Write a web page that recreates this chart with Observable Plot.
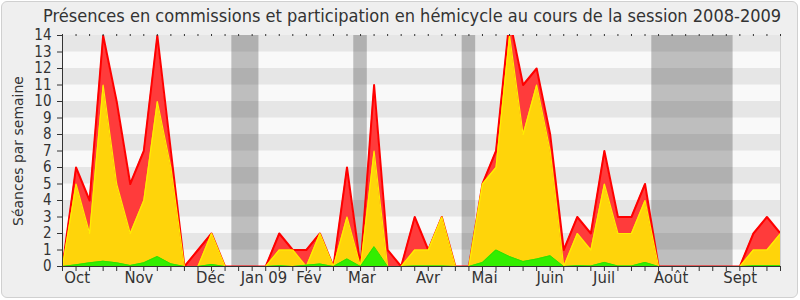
<!DOCTYPE html>
<html><head><meta charset="utf-8">
<script src="https://cdn.jsdelivr.net/npm/d3@7"></script>
<script src="https://cdn.jsdelivr.net/npm/@observablehq/plot@0.6"></script>
<style>
body{margin:0;background:#ffffff;}
#frame{position:absolute;left:1px;top:1px;width:797px;height:297px;box-sizing:border-box;border:1px solid #d0d0d0;border-radius:6px;background:#efefef;}
#title{position:absolute;left:43px;top:5px;white-space:nowrap;font-family:"DejaVu Sans Condensed","DejaVu Sans",sans-serif;font-size:18px;color:#333;}
#chart{position:absolute;left:0;top:30px;}
</style></head><body>
<div id="frame"></div>
<div id="title">Présences en commissions et participation en hémicycle au cours de la session 2008-2009</div>
<div id="chart"></div>
<script>
// Weekly values (session 2008-2009), one entry per week
const red    = [0,6,4,14,10,5,7,14,7,0, 1,2,0,0,0,0,2,1,1,2, 0,6,0,11,1,0,3,1,3,0, 0,5,7,15,11,12,8,1,3,2, 7,3,3,5,0,0,0,0,0,0, 0,2,3,2];
const yellow = [0,5,2,11,5,2,4,10,6,0, 0,2,0,0,0,0,1,1,0,2, 0,3,0,7,0,0,1,1,3,0, 0,5,6,14,8,11,7,0,2,1, 5,2,2,4,0,0,0,0,0,0, 0,1,1,2];
const green  = [0,0.1,0.22,0.32,0.22,0.06,0.22,0.6,0.16,0, 0,0.12,0,0,0,0,0.05,0,0.08,0.15, 0,0.46,0,1.2,0,0,0.03,0.03,0.03,0, 0,0.24,1.0,0.6,0.3,0.45,0.65,0,0.05,0.03, 0.25,0.03,0.03,0.25,0,0,0,0,0,0, 0,0.05,0.05,0.05];
const weeks = red.map((_, i) => i);

// Vacation (no-session) weeks
const vacStart = [13, 22, 30, 44];
const vacEnd   = [14, 22, 30, 49];

// Month labels and their positions (in weeks)
const monthName = ["Oct","Nov","Déc","Jan 09","Fév","Mar","Avr","Mai","Juin","Juil","Août","Sept"];
const monthPos  = [1.08,5.64,10.92,14.87,18.19,22.1,26.98,31.15,35.99,39.98,44.93,50.02];

const yTicks = [0,1,2,3,4,5,6,7,8,9,10,11,12,13,14];
const greyStripes = [1,3,5,7,9,11,13];
const yLabel = "Séances par semaine";

const FONT = '"DejaVu Sans Condensed","DejaVu Sans",sans-serif';
const FONT_WIDE = '"DejaVu Sans",sans-serif';

function fitSize(text, px, family) {
  const ctx = document.createElement("canvas").getContext("2d");
  ctx.font = "100px " + family;
  return px / ctx.measureText(text).width * 100;
}

// fit title width to reference
const t = document.getElementById("title");
t.style.fontSize = fitSize(t.textContent, 739, FONT).toFixed(2) + "px";
const yLabelSize = fitSize(yLabel, 150, FONT_WIDE);

const chart = Plot.plot({
  width: 800, height: 264,
  marginLeft: 62, marginRight: 20, marginTop: 5, marginBottom: 28,
  x: {domain: [0, 53], axis: null},
  y: {domain: [0, 14], axis: null},
  style: {fontFamily: FONT, fontSize: "14px", color: "#333", background: "transparent", overflow: "visible"},
  marks: [
    Plot.frame({fill: "#f9f9f9", stroke: null}),
    Plot.rect(greyStripes, {x1: 0, x2: 53, y1: d => d, y2: d => d + 1, fill: "#e6e6e6"}),
    Plot.rect(vacStart, {x1: (d, i) => vacStart[i] - 0.5, x2: (d, i) => vacEnd[i] + 0.5, y1: 0, y2: 14, fill: "#000", fillOpacity: 0.235}),
    Plot.areaY(weeks, {x: d => d, y: d => red[d], fill: "#ff3b3b", clip: true}),
    Plot.lineY(weeks, {x: d => d, y: d => red[d], stroke: "#ff0000", strokeWidth: 2, clip: true}),
    Plot.areaY(weeks, {x: d => d, y: d => yellow[d], fill: "#ffd40a", clip: true}),
    Plot.lineY(weeks, {x: d => d, y: d => yellow[d], stroke: "#ffee00", strokeWidth: 1.2, clip: true}),
    Plot.areaY(weeks, {x: d => d, y: d => green[d], fill: "#33ee00", clip: true}),
    Plot.lineY(weeks, {x: d => d, y: d => green[d], stroke: "#2fe000", strokeWidth: 1, clip: true}),
    Plot.ruleX([53], {stroke: "#cfcfcf"}),
    Plot.ruleX([0], {stroke: "#333"}),
    Plot.ruleY([0], {stroke: "#333"}),
    Plot.axisY({ticks: yTicks, tickSize: 5, tickPadding: 6, fontSize: 15, label: null, stroke: "#333"}),
    Plot.axisX({ticks: weeks, tickSize: 5, tickFormat: () => "", label: null, stroke: "#333"}),
    Plot.axisX({anchor: "top", ticks: weeks, tickSize: 2, tickFormat: () => "", label: null, stroke: "#333"}),
    Plot.axisX({ticks: monthPos, tickSize: 0, tickPadding: 5, fontSize: 16.5, tickFormat: d => monthName[monthPos.indexOf(d)], label: null}),
    Plot.text([yLabel], {frameAnchor: "left", textAnchor: "middle", dx: -44, dy: 0, rotate: -90, fontSize: yLabelSize, fontFamily: FONT_WIDE, fill: "#333"})
  ]
});
document.getElementById("chart").appendChild(chart);
</script>
</body></html>
